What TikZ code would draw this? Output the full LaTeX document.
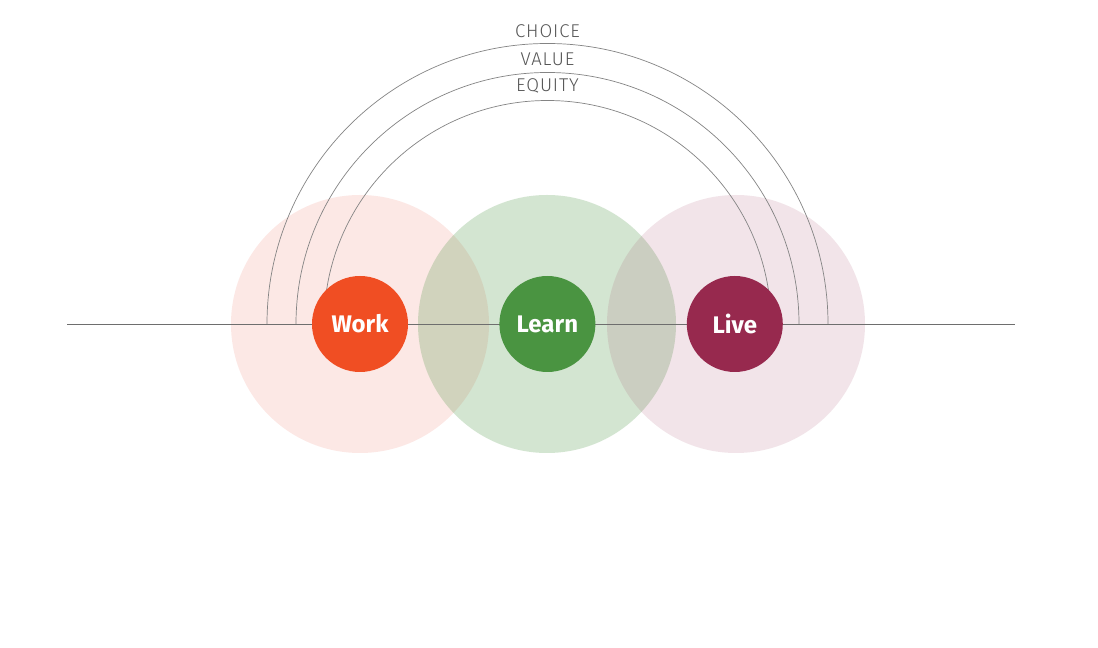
\documentclass[tikz,border=0pt]{standalone}
\usepackage{fontspec}
\setmainfont{Fira Sans}
\newfontfamily\lightfont{Fira Sans}[UprightFont={* Light},LetterSpace=5]
\usetikzlibrary{positioning}
\definecolor{workred}{HTML}{F04E23}
\definecolor{worktint}{HTML}{EB2305}
\definecolor{learngreen}{HTML}{4A9441}
\definecolor{livewine}{HTML}{97294E}
\definecolor{rulegray}{HTML}{6E6E6E}
\definecolor{taggray}{HTML}{555555}

\begin{document}
\begin{tikzpicture}[x=1pt,y=1pt,
  halo/.style={circle,minimum size=258pt,inner sep=0pt},
  core/.style={circle,minimum size=96pt,inner sep=0pt,text=white,
    font=\fontsize{24}{24}\selectfont\bfseries},
  arcline/.style={draw=rulegray!85,line width=0.7pt},
  tag/.style={text=taggray,inner sep=0pt,font=\lightfont\fontsize{18.5}{18.5}\selectfont}]
\useasboundingbox (0,0) rectangle (1098,648);
\fill[white] (0,0) rectangle (1098,648);
% large halos
\node[halo,fill=worktint,fill opacity=0.1] (workhalo) at (360,324) {};
\node[halo,fill=learngreen,fill opacity=0.24] (learnhalo) at (547,324) {};
\node[halo,fill=livewine,fill opacity=0.12] (livehalo) at (736,324) {};
% base line
\coordinate (west) at (67,324);
\coordinate (east) at (1015,324);
\draw[rulegray,line width=0.9pt] (west) -- (east);
% arcs
\coordinate (choiceL) at (267,324);
\coordinate (valueL) at (296,324);
\coordinate (equityL) at (324,324);
\draw[arcline] (choiceL) arc (180:0:280.5);
\draw[arcline] (valueL) arc (180:0:251.5);
\draw[arcline] (equityL) arc (180:0:223.5);
\node[tag] (choice) at (547.5,616.5) {CHOICE};
\node[tag] (value) at (547.5,588.5) {VALUE};
\node[tag] (equity) at (547.5,562.5) {EQUITY};
% small circles
\node[core,fill=workred] (work) at (360,324) {Work};
\node[core,fill=learngreen,right=91pt of work] (learn) {Learn};
\node[core,fill=livewine,right=91pt of learn] (live) {Live};
\end{tikzpicture}
\end{document}
